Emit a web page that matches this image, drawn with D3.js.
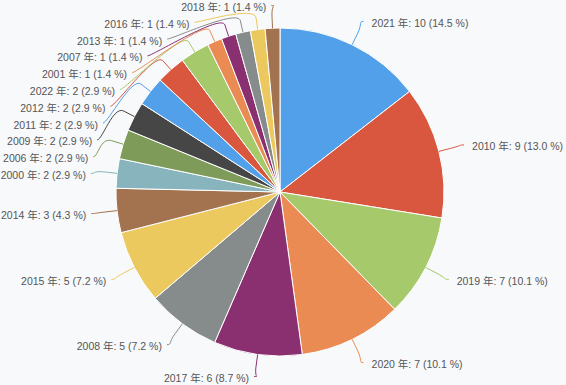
<!DOCTYPE html>
<html><head><meta charset="utf-8">
<script src="https://cdn.jsdelivr.net/npm/d3@7"></script>
<style>html,body{margin:0;padding:0;background:#f8f9fb;} svg{display:block;}</style>
</head><body><svg id="chart" width="566" height="385"></svg>
<script>
const years = ["2021","2010","2019","2020","2017","2008","2015","2014","2000","2006","2009","2011","2012","2022","2001","2007","2013","2016","2018"];
const counts = [10,9,7,7,6,5,5,3,2,2,2,2,2,2,1,1,1,1,1];
const palette = ["#52a0ea","#d9573f","#a6ca6b","#e98b52","#8a3070","#868c8c","#ebc95f","#a3724f","#87b4bd","#7e9b5a","#464646"];

const W = 566, H = 385, cx = 280, cy = 192, r = 164;
const total = d3.sum(counts);
const data = years.map((y, i) => ({year: y, value: counts[i], color: palette[i % palette.length]}));

const svg = d3.select("#chart");
svg.append("rect").attr("width", W).attr("height", H).attr("fill", "#f8f9fb");

const pie = d3.pie().value(d => d.value).sort(null);
const arcs = pie(data);
const arc = d3.arc().innerRadius(0).outerRadius(r);

const g = svg.append("g").attr("transform", `translate(${cx},${cy})`);
g.selectAll("path.slice").data(arcs).join("path")
  .attr("class", "slice")
  .attr("d", arc)
  .attr("fill", d => d.data.color)
  .attr("stroke", "#fff").attr("stroke-width", 1).attr("stroke-linejoin", "round");

// label layout
const R = 190, brk = 12, step = 16.8, yMin = 5.5, yMax = 376.5;
const labels = arcs.map(a => {
  const m = (a.startAngle + a.endAngle) / 2;
  return {a, m, left: m > Math.PI, ny: cy - R * Math.cos(m)};
});
[true, false].forEach(side => {
  const L = labels.filter(l => l.left === side).sort((p, q) => p.ny - q.ny);
  let prev = -Infinity;
  L.forEach(l => { l.y = Math.max(l.ny, yMin, prev + step); prev = l.y; });
  let next = Infinity;
  for (let i = L.length - 1; i >= 0; i--) { const l = L[i]; l.y = Math.min(l.y, yMax, next - step); next = l.y; }
});
labels.forEach(l => {
  const clamped = l.y <= yMin + 1e-6 || l.y >= yMax - 1e-6;
  const yy = clamped ? l.ny : l.y;
  const dx = Math.sqrt(Math.max(0, R * R - (yy - cy) * (yy - cy)));
  const dir = l.left ? -1 : 1;
  l.dir = dir;
  l.ax = cx + dir * dx;
  l.tx = l.ax + dir * (l.left ? 5 : 8);
  const s = Math.sin(l.m), c = -Math.cos(l.m);
  l.touch = [cx + r * s, cy + r * c];
  l.brk = [cx + (r + brk) * s, cy + (r + brk) * c];
});

const lg = svg.append("g");
lg.selectAll("path.conn").data(labels).join("path")
  .attr("class", "conn")
  .attr("fill", "none")
  .attr("stroke", d => d.a.data.color)
  .attr("stroke-width", 1)
  .attr("d", l => {
    const p = d3.path();
    p.moveTo(l.ax, l.y);
    p.bezierCurveTo(l.ax - l.dir * 5, l.y, 2 * l.brk[0] - l.touch[0], 2 * l.brk[1] - l.touch[1], l.brk[0], l.brk[1]);
    p.lineTo(l.touch[0], l.touch[1]);
    return p.toString();
  });

lg.selectAll("text.lbl").data(labels).join("text")
  .attr("class", "lbl")
  .attr("x", l => l.tx)
  .attr("y", l => l.y + 5.5)
  .attr("text-anchor", l => l.left ? "end" : "start")
  .attr("fill", "#555")
  .style("font-family", "'Liberation Sans', 'Noto Sans CJK JP', sans-serif")
  .style("font-size", "10.5px")
  .text(l => `${l.a.data.year} 年: ${l.a.data.value} (${(l.a.data.value / total * 100).toFixed(1)} %)`);
</script>
</body></html>
